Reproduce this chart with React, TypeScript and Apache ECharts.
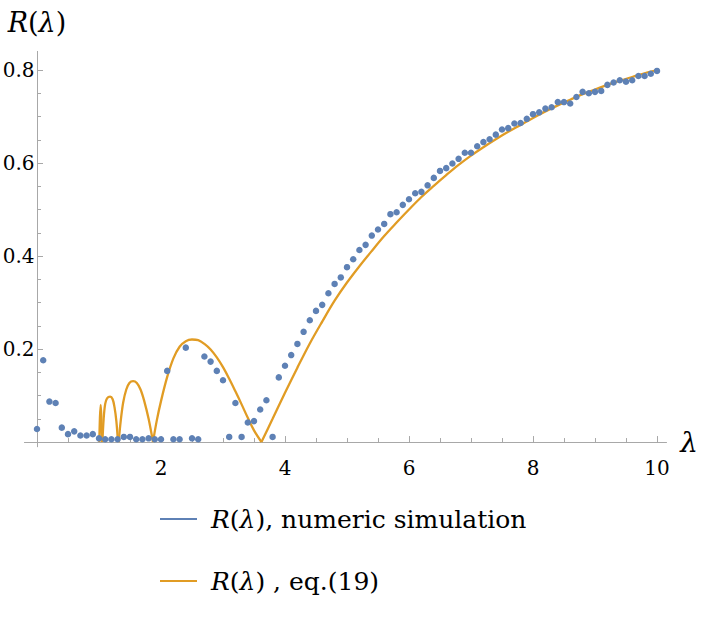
import * as echarts from 'echarts';
import { useEffect, useRef } from 'react';

const BLUE = '#5E81B5';
const ORANGE = '#E19C24';
const AXIS = '#a8a8a8';
const FONT = 'DejaVu Serif';

// numeric simulation, sampled every 0.1 in lambda
const simLambda = [
  0.0, 0.1, 0.2, 0.3, 0.4, 0.5, 0.6, 0.7, 0.8, 0.9,
  1.0, 1.1, 1.2, 1.3, 1.4, 1.5, 1.6, 1.7, 1.8, 1.9,
  2.0, 2.1, 2.2, 2.3, 2.4, 2.5, 2.6, 2.7, 2.8, 2.9,
  3.0, 3.1, 3.2, 3.3, 3.4, 3.5, 3.6, 3.7, 3.8, 3.9,
  4.0, 4.1, 4.2, 4.3, 4.4, 4.5, 4.6, 4.7, 4.8, 4.9,
  5.0, 5.1, 5.2, 5.3, 5.4, 5.5, 5.6, 5.7, 5.8, 5.9,
  6.0, 6.1, 6.2, 6.3, 6.4, 6.5, 6.6, 6.7, 6.8, 6.9,
  7.0, 7.1, 7.2, 7.3, 7.4, 7.5, 7.6, 7.7, 7.8, 7.9,
  8.0, 8.1, 8.2, 8.3, 8.4, 8.5, 8.6, 8.7, 8.8, 8.9,
  9.0, 9.1, 9.2, 9.3, 9.4, 9.5, 9.6, 9.7, 9.8, 9.9,
  10.0,
];
const simR = [
  0.028, 0.176, 0.087, 0.084, 0.031, 0.017, 0.023, 0.014, 0.014, 0.017,
  0.008, 0.006, 0.006, 0.006, 0.011, 0.011, 0.006, 0.006, 0.008, 0.006,
  0.006, 0.153, 0.006, 0.006, 0.203, 0.008, 0.006, 0.184, 0.173, 0.153,
  0.133, 0.011, 0.084, 0.011, 0.042, 0.045, 0.070, 0.090, 0.011, 0.139,
  0.164, 0.187, 0.211, 0.237, 0.262, 0.282, 0.295, 0.320, 0.340, 0.354,
  0.376, 0.393, 0.413, 0.424, 0.444, 0.457, 0.469, 0.490, 0.494, 0.510,
  0.522, 0.535, 0.538, 0.552, 0.568, 0.583, 0.589, 0.599, 0.609, 0.622,
  0.622, 0.636, 0.645, 0.651, 0.661, 0.672, 0.675, 0.685, 0.686, 0.695,
  0.705, 0.709, 0.717, 0.720, 0.731, 0.731, 0.728, 0.742, 0.753, 0.750,
  0.753, 0.755, 0.768, 0.773, 0.778, 0.775, 0.778, 0.787, 0.787, 0.792,
  0.798,
];

// eq.(19), one piece per lobe between zeros
const eqSpike = [[1.005, 0], [1.015, 0.052], [1.027, 0.08], [1.039, 0.05], [1.05, 0]];
const eqLobe2 = [
  [1.055, 0], [1.075, 0.05], [1.1, 0.082], [1.13, 0.094], [1.18, 0.0975],
  [1.22, 0.092], [1.25, 0.075], [1.28, 0.045], [1.306, 0],
];
const eqLobe3 = [
  [1.317, 0], [1.35, 0.045], [1.39, 0.085], [1.44, 0.113], [1.49, 0.127], [1.55, 0.131],
  [1.61, 0.127], [1.67, 0.113], [1.73, 0.088], [1.8, 0.05], [1.871, 0],
];
const eqLobe4 = [
  [1.871, 0], [1.93, 0.045], [2.0, 0.088], [2.1, 0.14], [2.2, 0.18], [2.3, 0.205],
  [2.4, 0.217], [2.5, 0.2205], [2.6, 0.219], [2.7, 0.211], [2.8, 0.199], [2.9, 0.182],
  [3.0, 0.161], [3.1, 0.136], [3.2, 0.109], [3.3, 0.081], [3.4, 0.052], [3.5, 0.025], [3.62, 0],
];
const eqRise = [
  [3.62, 0], [3.8, 0.05], [4.0, 0.106], [4.2, 0.16], [4.4, 0.212], [4.6, 0.259],
  [4.8, 0.304], [5.0, 0.343], [5.2, 0.378], [5.4, 0.411], [5.6, 0.443], [5.8, 0.472],
  [6.0, 0.5], [6.2, 0.527], [6.4, 0.551], [6.6, 0.574], [6.8, 0.596], [7.0, 0.616],
  [7.2, 0.634], [7.4, 0.651], [7.6, 0.667], [7.8, 0.682], [8.0, 0.697], [8.2, 0.711],
  [8.4, 0.724], [8.6, 0.736], [8.8, 0.748], [9.0, 0.758], [9.2, 0.768], [9.4, 0.777],
  [9.6, 0.785], [9.8, 0.793], [10.0, 0.8],
];

const xTicks = [2, 4, 6, 8, 10];
const xMinorTicks = [
  0.5, 1, 1.5, 2, 2.5, 3, 3.5, 4, 4.5, 5, 5.5, 6, 6.5, 7, 7.5, 8, 8.5, 9, 9.5, 10,
];
const yTicks = [0.2, 0.4, 0.6, 0.8];
const yMinorTicks = [
  0.05, 0.1, 0.15, 0.2, 0.25, 0.3, 0.35, 0.4, 0.45, 0.5, 0.55, 0.6, 0.65, 0.7, 0.75, 0.8,
];

const legendNames: Record<string, string> = {
  sim: '{i|R}({i|λ}), numeric simulation',
  eq: '{i|R}({i|λ}) , eq.(19)',
};

export default function App() {
  const chartRef = useRef<HTMLDivElement>(null);

  useEffect(() => {
    if (!chartRef.current) return;
    const chart = echarts.init(chartRef.current, undefined, { renderer: 'svg' });

    const X_MIN = -0.2, X_MAX = 10.15;
    const Y_MIN = -0.01, Y_MAX = 0.84;
    const onZeroLine = { onZero: true, onZeroAxisIndex: 0, lineStyle: { color: AXIS, width: 1 } };

    const eqSeries = [eqSpike, eqLobe2, eqLobe3, eqLobe4, eqRise].map(d => ({
      name: 'eq',
      type: 'line' as const,
      data: d,
      smooth: 0.35,
      symbol: 'none',
      lineStyle: { color: ORANGE, width: 2.3 },
      itemStyle: { color: ORANGE },
      z: 2,
    }));

    chart.setOption({
      animation: false,
      backgroundColor: '#fff',
      textStyle: { fontFamily: FONT },
      grid: {
        left: 24.6, right: 39.7, top: 51.4, bottom: 173.3,
        containLabel: false, outerBoundsMode: 'none',
      },
      legend: {
        orient: 'vertical',
        left: 155,
        top: 498,
        itemWidth: 37,
        itemHeight: 2,
        itemGap: 30,
        icon: 'rect',
        selectedMode: false,
        data: ['sim', 'eq'],
        formatter: (n: string) => legendNames[n],
        textStyle: {
          fontFamily: FONT,
          fontSize: 25,
          lineHeight: 32,
          color: '#000',
          padding: [0, 0, 0, 9],
          rich: { i: { fontStyle: 'italic', fontFamily: FONT, fontSize: 25, lineHeight: 32, color: '#000' } },
        },
      },
      xAxis: [
        {
          type: 'value', min: X_MIN, max: X_MAX, position: 'bottom',
          axisLine: onZeroLine,
          axisTick: { inside: true, length: 6, customValues: xTicks, lineStyle: { color: AXIS } },
          axisLabel: {
            customValues: xTicks, color: '#000', fontSize: 20, fontFamily: FONT, margin: 11,
            formatter: (v: number) => String(v),
          },
          splitLine: { show: false },
          name: 'λ', nameLocation: 'end', nameGap: 14,
          nameTextStyle: { fontStyle: 'italic', fontSize: 28, color: '#000', fontFamily: FONT, verticalAlign: 'middle' },
        },
        {
          type: 'value', min: X_MIN, max: X_MAX, position: 'bottom',
          axisLine: onZeroLine,
          axisTick: { inside: true, length: 4, customValues: xMinorTicks, lineStyle: { color: AXIS } },
          axisLabel: { show: false },
          splitLine: { show: false },
        },
      ],
      yAxis: [
        {
          type: 'value', min: Y_MIN, max: Y_MAX, position: 'left',
          axisLine: onZeroLine,
          axisTick: { inside: true, length: 6, customValues: yTicks, lineStyle: { color: AXIS } },
          axisLabel: {
            customValues: yTicks, color: '#000', fontSize: 20, fontFamily: FONT, margin: -10,
            formatter: (v: number) => v.toFixed(1),
          },
          splitLine: { show: false },
          name: '{i|R}({i|λ})', nameLocation: 'end', nameGap: 15,
          nameTextStyle: {
            fontSize: 27, color: '#000', fontFamily: FONT, align: 'center',
            rich: { i: { fontStyle: 'italic', fontSize: 27, fontFamily: FONT, color: '#000' } },
          },
        },
        {
          type: 'value', min: Y_MIN, max: Y_MAX, position: 'left',
          axisLine: onZeroLine,
          axisTick: { inside: true, length: 4, customValues: yMinorTicks, lineStyle: { color: AXIS } },
          axisLabel: { show: false },
          splitLine: { show: false },
        },
      ],
      series: [
        ...eqSeries,
        {
          name: 'sim',
          type: 'scatter',
          data: simLambda.map((l, i) => [l, simR[i]]),
          symbolSize: 6.5,
          itemStyle: { color: BLUE, opacity: 1 },
          z: 3,
        },
      ],
    });

    return () => chart.dispose();
  }, []);

  return (
    <div
      ref={chartRef}
      style={{ position: 'absolute', left: 0, top: 0, width: 706, height: 620 }}
    />
  );
}
